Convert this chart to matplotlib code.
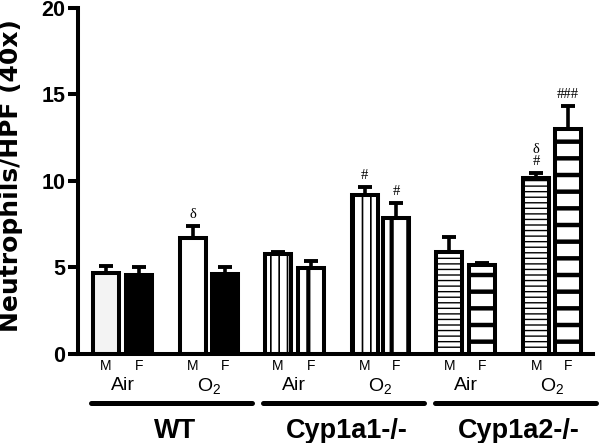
import matplotlib
matplotlib.use('Agg')
import matplotlib.pyplot as plt
import numpy as np

plt.rcParams['font.family'] = ['Liberation Sans', 'DejaVu Sans']
plt.rcParams['mathtext.default'] = 'regular'
plt.rcParams['hatch.linewidth'] = 1.2

groups = ['WT', 'Cyp1a1-/-', 'Cyp1a2-/-']
conditions = ['Air', 'O$_2$']
sexes = ['M', 'F']

# mean and upper SEM per group: [Air M, Air F, O2 M, O2 F]
means = {
    'WT':        [4.7, 4.55, 6.7, 4.65],
    'Cyp1a1-/-': [5.8, 4.95, 9.2, 7.85],
    'Cyp1a2-/-': [5.9, 5.15, 10.2, 13.0],
}
errors = {
    'WT':        [0.4, 0.5, 0.7, 0.35],
    'Cyp1a1-/-': [0.1, 0.4, 0.45, 0.85],
    'Cyp1a2-/-': [0.85, 0.1, 0.25, 1.35],
}
marks = {
    'WT':        ['', '', 'δ', ''],
    'Cyp1a1-/-': ['', '', '#', '#'],
    'Cyp1a2-/-': ['', '', 'δ\n#', '###'],
}

colors = {
    'WT':        ['#f3f3f3', 'black', 'white', 'black'],
    'Cyp1a1-/-': ['white'] * 4,
    'Cyp1a2-/-': ['white'] * 4,
}
hatches = {
    'WT':        [None, None, None, None],
    'Cyp1a1-/-': ['||', '|', '||', '|'],
    'Cyp1a2-/-': ['---', '-', '---', '-'],
}
hatch_lw = {
    'WT':        [1, 1, 1, 1],
    'Cyp1a1-/-': [1.2, 3.0, 1.2, 3.0],
    'Cyp1a2-/-': [1.0, 3.2, 1.0, 3.2],
}

offsets = np.array([0.0, 1.02, 2.68, 3.66])
group_step = 5.29
width = 0.8

fig = plt.figure(figsize=(6, 4.43), dpi=100)
ax = fig.add_axes([0.13, 0.201, 0.858, 0.781])
xt = ax.get_xaxis_transform()

for gi, g in enumerate(groups):
    xs = gi * group_step + offsets
    bars = ax.bar(xs, means[g], width=width, color=colors[g],
                  edgecolor='black', linewidth=2.9, zorder=2)
    for b, h, hl in zip(bars, hatches[g], hatch_lw[g]):
        if h:
            b.set_hatch(h)
            try:
                b.set_hatch_linewidth(hl)
            except AttributeError:
                pass
    ax.errorbar(xs, means[g], yerr=[np.zeros(4), errors[g]], fmt='none',
                ecolor='black', elinewidth=2.6, capsize=5, capthick=2.8, zorder=1)
    for x, m, e, t in zip(xs, means[g], errors[g], marks[g]):
        if t:
            ax.text(x, m + e + 0.3, t, ha='center', va='bottom',
                    fontsize=10.5, family='Liberation Serif', linespacing=0.9)
    # M / F labels
    for i, x in enumerate(xs):
        ax.text(x, -0.035, sexes[i % 2], transform=xt,
                ha='center', va='center', fontsize=10)
    # Air / O2
    for ci, c in enumerate(conditions):
        ax.text((xs[2 * ci] + xs[2 * ci + 1]) / 2, -0.092, c,
                transform=xt, ha='center', va='center', fontsize=14)
    x0 = xs[0] - width / 2 - 0.05
    x1 = xs[-1] + width / 2 + 0.45
    ax.plot([x0, x1], [-0.142, -0.142], transform=xt, color='black', lw=3.6,
            solid_capstyle='round', clip_on=False)
    ax.text((x0 + x1) / 2 + 0.1, -0.222, g, transform=xt,
            ha='center', va='center', fontsize=19.5, fontweight='bold')

ax.set_xlim(-0.86, 15.0)
ax.set_ylim(0, 20)
ax.set_yticks([0, 5, 10, 15, 20])
ax.set_xticks([])
ax.set_ylabel('Neutrophils/HPF (40x)', fontsize=18, fontweight='bold',
              family='DejaVu Sans')
ax.yaxis.set_label_coords(-0.106, 0.517)
for lab in ax.get_yticklabels():
    lab.set_fontweight('bold')
    lab.set_fontsize(15.5)
ax.tick_params(axis='y', width=2.9, length=7, direction='out', pad=2)
ax.spines['top'].set_visible(False)
ax.spines['right'].set_visible(False)
ax.spines['left'].set_linewidth(2.9)
ax.spines['bottom'].set_linewidth(2.9)

fig.savefig('out.png', dpi=100)
